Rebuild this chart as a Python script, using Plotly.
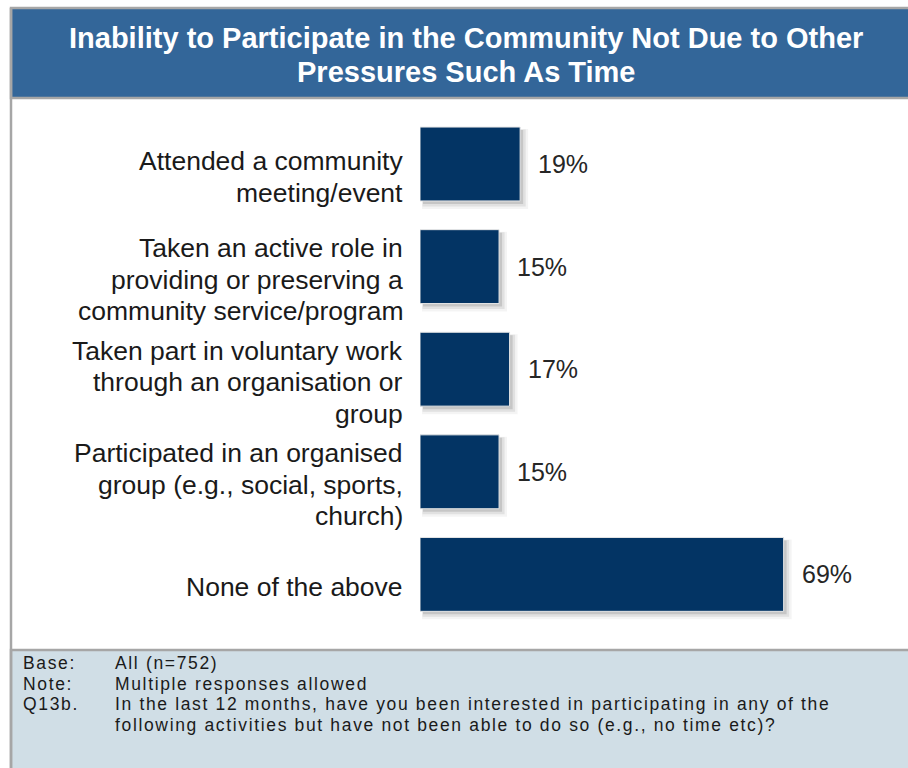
import plotly.graph_objects as go

# Survey results
categories = [
    "Attended a community<br>meeting/event",
    "Taken an active role in<br>providing or preserving a<br>community service/program",
    "Taken part in voluntary work<br>through an organisation or<br>group",
    "Participated in an organised<br>group (e.g., social, sports,<br>church)",
    "None of the above",
]
values = [19, 15, 17, 15, 69]
value_labels = ["19%", "15%", "17%", "15%", "69%"]

title_lines = ["Inability to Participate in the Community Not Due to Other",
               "Pressures Such As Time"]
footer_keys = ["Base:", "Note:", "Q13b.", ""]
footer_texts = [
    "All (n=752)",
    "Multiple responses allowed",
    "In the last 12 months, have you been interested in participating in any of the",
    "following activities but have not been able to do so (e.g., no time etc)?",
]

W, H = 908, 768
NAVY = "#033464"
BANNER = "#336699"
FOOTER_BG = "#d0dee6"
BORDER = "#a6a6a6"
TEXT = "#1a1a1a"
FONT = "Liberation Sans, Arial, sans-serif"


def px(x):
    return x / W


def py(y):
    return 1 - y / H


def spaced(s, sp=1.65):
    return f'<span style="letter-spacing:{sp}px">{s}</span>'


BAR_W = 0.72
PX_PER_UNIT = 5.27   # horizontal pixels per percentage point
PITCH = 102.6        # vertical pixels per category
LABEL_LINE = 31.5    # line spacing of the category labels
LABEL_DROP = 13      # category labels sit a little below the bar centre

fig = go.Figure()

# soft drop shadow built from a few translucent layers
for dx, dy, spread, op in [(5, 5, 3, 0.06), (4, 4, 1.5, 0.10), (3, 3, 0, 0.16)]:
    fig.add_trace(go.Bar(
        x=[v + (2 * spread) / PX_PER_UNIT for v in values],
        y=categories,
        base=(dx - spread) / PX_PER_UNIT,
        orientation="h",
        width=BAR_W + 2 * spread / PITCH,
        offset=-(BAR_W / 2) + (dy - spread) / PITCH,
        marker=dict(color=f"rgba(60,60,60,{op})", line=dict(width=0)),
        hoverinfo="skip",
        showlegend=False,
    ))

fig.add_trace(go.Bar(
    x=values,
    y=categories,
    orientation="h",
    width=BAR_W,
    marker=dict(color=NAVY, line=dict(color="#e6e6e6", width=1)),
    showlegend=False,
))

# value labels to the right of each bar
for cat, v, lab in zip(categories, values, value_labels):
    fig.add_annotation(
        x=v, y=cat, xref="x", yref="y", text=lab, showarrow=False,
        xanchor="left", yanchor="middle", xshift=16, yshift=0,
        font=dict(family=FONT, size=25, color="#262626"),
    )

# category labels, one annotation per line so the line spacing is controlled
for cat in categories:
    lines = cat.split("<br>")
    n = len(lines)
    for i, line in enumerate(lines):
        off = LABEL_DROP + (i - (n - 1) / 2) * LABEL_LINE
        fig.add_annotation(
            x=0, y=cat, xref="x", yref="y", text=line, showarrow=False,
            xanchor="right", yanchor="middle", xshift=-15, yshift=-off,
            font=dict(family=FONT, size=26.5, color=TEXT),
        )

# frame, title banner and footer panel
shapes = [
    dict(type="rect", xref="paper", yref="paper", x0=px(11), x1=px(912),
         y0=py(8), y1=py(98), fillcolor=BANNER, line=dict(color=BORDER, width=2.5),
         layer="below"),
    dict(type="rect", xref="paper", yref="paper", x0=px(11), x1=px(912),
         y0=py(650), y1=py(772), fillcolor=FOOTER_BG, line=dict(color=BORDER, width=2.5),
         layer="below"),
    dict(type="line", xref="paper", yref="paper", x0=px(11), x1=px(11),
         y0=py(8), y1=py(772), line=dict(color=BORDER, width=2.5)),
]
fig.update_layout(shapes=shapes)

for i, line in enumerate(title_lines):
    fig.add_annotation(
        x=px(466), y=py(38 + i * 34), xref="paper", yref="paper",
        text="<b>" + line + "</b>", showarrow=False,
        xanchor="center", yanchor="middle",
        font=dict(family=FONT, size=29, color="white"),
    )

for i, (k, t) in enumerate(zip(footer_keys, footer_texts)):
    yy = 663 + i * 20.5
    if k:
        fig.add_annotation(x=px(21), y=py(yy), xref="paper", yref="paper",
                           text=spaced(k), showarrow=False,
                           xanchor="left", yanchor="middle",
                           font=dict(family=FONT, size=17.5, color=TEXT))
    fig.add_annotation(x=px(113), y=py(yy), xref="paper", yref="paper",
                       text=spaced(t), showarrow=False,
                       xanchor="left", yanchor="middle",
                       font=dict(family=FONT, size=17.5, color=TEXT))

top_px, bot_px, c0 = 110, 640, 164
fig.update_layout(
    width=W, height=H,
    margin=dict(l=0, r=0, t=0, b=0),
    paper_bgcolor="white", plot_bgcolor="white",
    barmode="overlay",
    xaxis=dict(domain=[px(420), 1], range=[0, (W - 420) / PX_PER_UNIT],
               visible=False, fixedrange=True),
    yaxis=dict(domain=[py(bot_px), py(top_px)],
               range=[(bot_px - c0) / PITCH, (top_px - c0) / PITCH],
               type="category", categoryorder="array", categoryarray=categories,
               showgrid=False, zeroline=False, showline=False, ticks="",
               showticklabels=False),
    font=dict(family=FONT),
)

fig.write_html("out.html")
